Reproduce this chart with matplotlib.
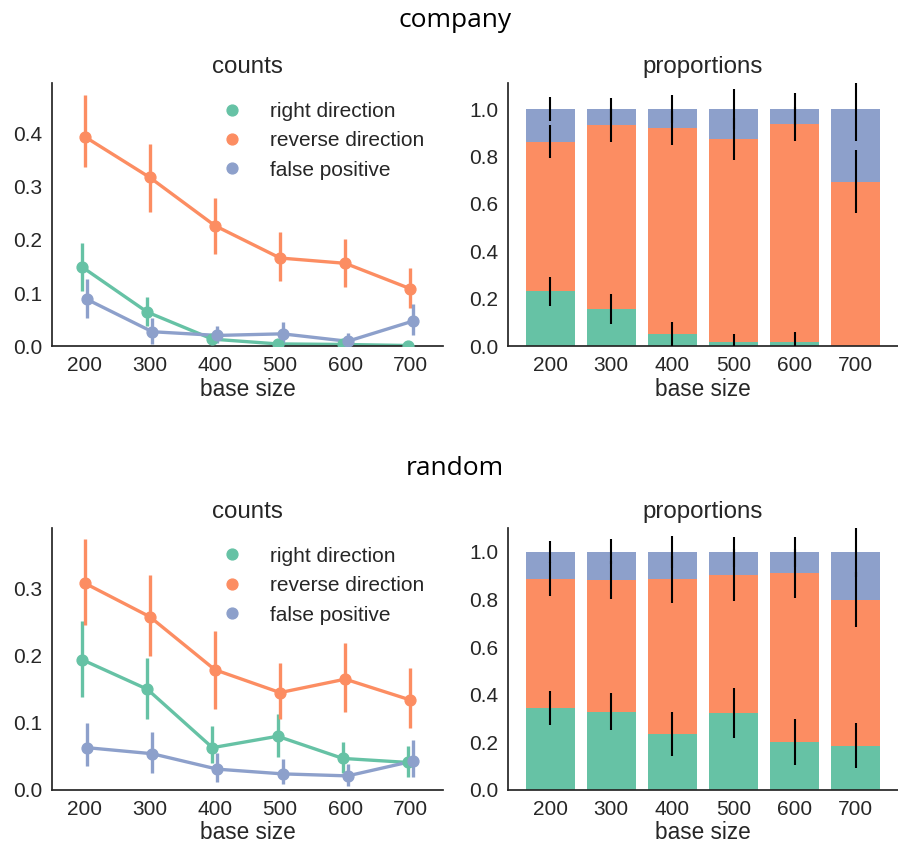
import numpy as np
import matplotlib
matplotlib.use("Agg")
import matplotlib.pyplot as plt

# base sizes and outcome categories
sizes = ["200", "300", "400", "500", "600", "700"]
categories = ["right direction", "reverse direction", "false positive"]
colors = ["#66c2a5", "#fc8d62", "#8da0cb"]

# company: mean counts with CI bounds
company_right = [0.149, 0.064, 0.013, 0.004, 0.003, 0.001]
company_right_lo = [0.103, 0.038, 0.005, 0.0, 0.0, 0.0]
company_right_hi = [0.194, 0.092, 0.021, 0.008, 0.006, 0.002]
company_reverse = [0.395, 0.318, 0.227, 0.166, 0.156, 0.108]
company_reverse_lo = [0.338, 0.252, 0.174, 0.123, 0.112, 0.072]
company_reverse_hi = [0.473, 0.381, 0.279, 0.215, 0.202, 0.147]
company_false = [0.088, 0.027, 0.020, 0.023, 0.009, 0.047]
company_false_lo = [0.052, 0.004, 0.005, 0.005, 0.0, 0.021]
company_false_hi = [0.127, 0.052, 0.038, 0.046, 0.025, 0.079]

# random: mean counts with CI bounds
random_right = [0.194, 0.150, 0.063, 0.080, 0.047, 0.041]
random_right_lo = [0.139, 0.105, 0.040, 0.049, 0.025, 0.019]
random_right_hi = [0.252, 0.196, 0.095, 0.113, 0.072, 0.065]
random_reverse = [0.308, 0.258, 0.179, 0.145, 0.165, 0.134]
random_reverse_lo = [0.246, 0.199, 0.121, 0.105, 0.116, 0.092]
random_reverse_hi = [0.373, 0.320, 0.236, 0.189, 0.219, 0.182]
random_false = [0.063, 0.054, 0.031, 0.024, 0.021, 0.043]
random_false_lo = [0.035, 0.025, 0.012, 0.009, 0.006, 0.019]
random_false_hi = [0.099, 0.086, 0.055, 0.046, 0.039, 0.075]

# proportions per segment and their errors
company_prop_right = [0.231, 0.156, 0.050, 0.017, 0.017, 0.0]
company_prop_reverse = [0.632, 0.778, 0.870, 0.858, 0.921, 0.694]
company_prop_false = [0.137, 0.066, 0.080, 0.125, 0.062, 0.306]
company_err_right = [0.061, 0.065, 0.051, 0.033, 0.041, 0.0]
company_err_reverse = [0.068, 0.072, 0.071, 0.088, 0.071, 0.133]
company_err_false = [0.049, 0.045, 0.060, 0.084, 0.066, 0.133]

random_prop_right = [0.345, 0.329, 0.235, 0.323, 0.201, 0.186]
random_prop_reverse = [0.540, 0.554, 0.650, 0.579, 0.709, 0.613]
random_prop_false = [0.115, 0.117, 0.115, 0.098, 0.090, 0.201]
random_err_right = [0.071, 0.078, 0.092, 0.105, 0.095, 0.094]
random_err_reverse = [0.072, 0.080, 0.099, 0.108, 0.103, 0.116]
random_err_false = [0.046, 0.053, 0.067, 0.064, 0.064, 0.105]

plt.rcParams["font.family"] = ["Liberation Sans", "DejaVu Sans"]
plt.rcParams["text.color"] = "#262626"
plt.rcParams["axes.labelcolor"] = "#262626"
plt.rcParams["xtick.color"] = "#262626"
plt.rcParams["ytick.color"] = "#262626"

fig = plt.figure(figsize=(8.98, 8.5), dpi=100)


def style_axes(ax):
    for s in ["top", "right"]:
        ax.spines[s].set_visible(False)
    for s in ["left", "bottom"]:
        ax.spines[s].set_color("#262626")
        ax.spines[s].set_linewidth(1.25)
    ax.tick_params(length=0, labelsize=15)
    ax.tick_params(axis="y", pad=7)
    ax.tick_params(axis="x", pad=7)


def draw_counts(ax, means, los, his, ylim):
    x = np.arange(len(sizes))
    offsets = [-0.0375, 0.0, 0.0375]
    for m, lo, hi, off, c, lab in zip(means, los, his, offsets, colors, categories):
        xx = x + off
        ax.vlines(xx, lo, hi, color=c, lw=2.4, zorder=2)
        ax.plot(xx, m, color=c, lw=2.4, zorder=2)
        ax.plot(xx, m, "o", color=c, ms=7.8, zorder=3, label=lab, linestyle="none")
    ax.set_xlim(-0.5, len(sizes) - 0.5)
    ax.set_ylim(*ylim)
    ax.set_xticks(x)
    ax.set_xticklabels(sizes)
    ax.set_yticks(np.arange(0, ylim[1], 0.1))
    ax.set_xlabel("base size", fontsize=16.3, labelpad=2)
    ax.set_title("counts", fontsize=17.4, pad=7)
    ax.legend(frameon=False, fontsize=15, loc="upper right")
    style_axes(ax)


def draw_props(ax, props, errs):
    x = np.arange(len(sizes))
    bottom = np.zeros(len(sizes))
    for p, c in zip(props, colors):
        ax.bar(x, p, bottom=bottom, color=c, width=0.8, zorder=1)
        bottom = bottom + np.array(p)
    tops = np.cumsum(np.array(props), axis=0)
    for t, e in zip(tops, errs):
        ax.errorbar(x, t, yerr=e, fmt="none", ecolor="k", elinewidth=1.5, capsize=0, zorder=3)
    ax.set_ylim(0, 1.11)
    ax.set_xticks(x)
    ax.set_xticklabels(sizes)
    ax.set_yticks([0, 0.2, 0.4, 0.6, 0.8, 1.0])
    ax.set_xlabel("base size", fontsize=16.3, labelpad=2)
    ax.set_title("proportions", fontsize=17.4, pad=7)
    style_axes(ax)


ax1 = fig.add_axes([0.0579, 0.5929, 0.4354, 0.3094])
ax2 = fig.add_axes([0.5657, 0.5929, 0.4343, 0.3094])
ax3 = fig.add_axes([0.0579, 0.0706, 0.4354, 0.3082])
ax4 = fig.add_axes([0.5657, 0.0706, 0.4343, 0.3082])

draw_counts(ax1,
            [company_right, company_reverse, company_false],
            [company_right_lo, company_reverse_lo, company_false_lo],
            [company_right_hi, company_reverse_hi, company_false_hi],
            (0, 0.496))
draw_props(ax2,
           [company_prop_right, company_prop_reverse, company_prop_false],
           [company_err_right, company_err_reverse, company_err_false])
draw_counts(ax3,
            [random_right, random_reverse, random_false],
            [random_right_lo, random_reverse_lo, random_false_lo],
            [random_right_hi, random_reverse_hi, random_false_hi],
            (0, 0.39))
draw_props(ax4,
           [random_prop_right, random_prop_reverse, random_prop_false],
           [random_err_right, random_err_reverse, random_err_false])
ax4.set_ylim(0, 1.1)

fig.text(0.507, 0.968, "company", ha="center", va="baseline", fontsize=19,
         family=["Open Sans", "DejaVu Sans"], color="black")
fig.text(0.507, 0.441, "random", ha="center", va="baseline", fontsize=19,
         family=["Open Sans", "DejaVu Sans"], color="black")

fig.savefig("out.png", dpi=100)
